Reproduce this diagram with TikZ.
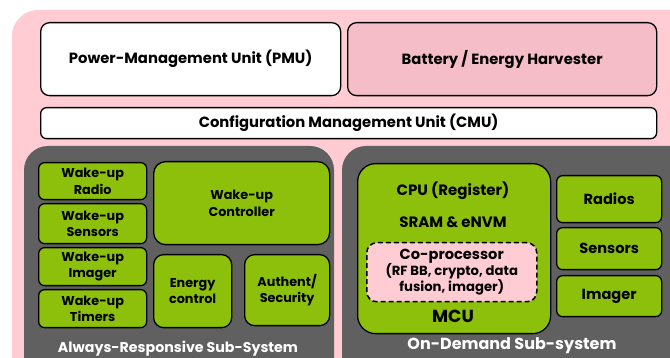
\documentclass[tikz,border=0pt]{standalone}
\usepackage{fontspec}
\setmainfont{Poppins}
\definecolor{outerpink}{HTML}{FFCCD3}
\definecolor{battpink}{HTML}{F4BDC7}
\definecolor{subgray}{HTML}{606060}
\definecolor{leaf}{HTML}{8DC00B}
\begin{document}
\begin{tikzpicture}[x=1pt,y=-1pt,
  blk/.style={draw=black,line width=1.3pt,anchor=north west,inner sep=0pt,align=center,font=\bfseries\fontsize{14.8}{17}\selectfont},
  wbox/.style={blk,fill=white,rounded corners=9pt},
  gbox/.style={blk,fill=leaf,rounded corners=6pt,font=\bfseries\fontsize{12.8}{16.5}\selectfont},
  rbox/.style={gbox,font=\bfseries\fontsize{14.6}{17}\selectfont},
  sublbl/.style={text=white,font=\bfseries\fontsize{14.2}{16}\selectfont,inner sep=0pt}]
\useasboundingbox (0,0) rectangle (670,358);
\begin{scope}
\clip (0,0) rectangle (670,358);
\fill[outerpink,rounded corners=26pt] (12,10) rectangle (700,400);
\fill[subgray,rounded corners=24pt] (24,146) rectangle (334,400);
\fill[subgray,rounded corners=24pt] (342,146) rectangle (700,400);
\end{scope}
% top row
\node[wbox,minimum width=300pt,minimum height=73pt] (pmu) at (40,22) {Power-Management Unit (PMU)};
\node[wbox,fill=battpink,minimum width=309pt,minimum height=73pt] (bat) at (347,22) {Battery / Energy Harvester};
\node[wbox,rounded corners=6pt,minimum width=616pt,minimum height=31pt] (cmu) at (40,107) {Configuration Management Unit (CMU)};
% always-responsive
\node[gbox,minimum width=108pt,minimum height=37pt] (wradio) at (38,162) {Wake-up\\Radio};
\node[gbox,minimum width=108pt,minimum height=40pt] (wsens) at (38,203) {Wake-up\\Sensors};
\node[gbox,minimum width=108pt,minimum height=38pt] (wimg) at (38,247) {Wake-up\\Imager};
\node[gbox,minimum width=108pt,minimum height=38pt] (wtim) at (38,289) {Wake-up\\Timers};
\node[gbox,rounded corners=12pt,minimum width=176pt,minimum height=83pt] (wctrl) at (153,161) {Wake-up\\Controller};
\node[gbox,rounded corners=10pt,minimum width=78pt,minimum height=73pt] (energy) at (153,254) {Energy\\control};
\node[gbox,rounded corners=10pt,minimum width=85pt,minimum height=71pt] (auth) at (244,254) {Authent/\\Security};
\node[sublbl] (arlbl) at (178,349) {Always-Responsive Sub-System};
% on-demand
\node[gbox,rounded corners=18pt,minimum width=193pt,minimum height=170pt] (mcu) at (357,163) {};
\node[font=\bfseries\fontsize{15}{17}\selectfont,inner sep=0pt] (cpu) at (453,191) {CPU (Register)};
\node[font=\bfseries\fontsize{15}{17}\selectfont,inner sep=0pt] (sram) at (453,222) {SRAM \& eNVM};
\node[blk,fill=outerpink,dash pattern=on 5pt off 3pt,line width=1.5pt,rounded corners=10pt,minimum width=170pt,minimum height=59pt,font=\bfseries\fontsize{13.2}{16}\selectfont] (cop) at (366,242) {{\fontsize{14.6}{17}\selectfont Co-processor}\\(RF BB, crypto, data\\fusion, imager)};
\node[font=\bfseries\fontsize{17.5}{18}\selectfont,inner sep=0pt] (mcul) at (453,316) {MCU};
\node[rbox,minimum width=105pt,minimum height=47pt] (radios) at (556,175) {Radios};
\node[rbox,minimum width=105pt,minimum height=42pt] (sensors) at (556,227) {Sensors};
\node[rbox,minimum width=105pt,minimum height=41pt] (imager) at (556,275) {Imager};
\node[sublbl,font=\bfseries\fontsize{16}{17}\selectfont] (odlbl) at (512,346) {On-Demand Sub-system};
\end{tikzpicture}
\end{document}
